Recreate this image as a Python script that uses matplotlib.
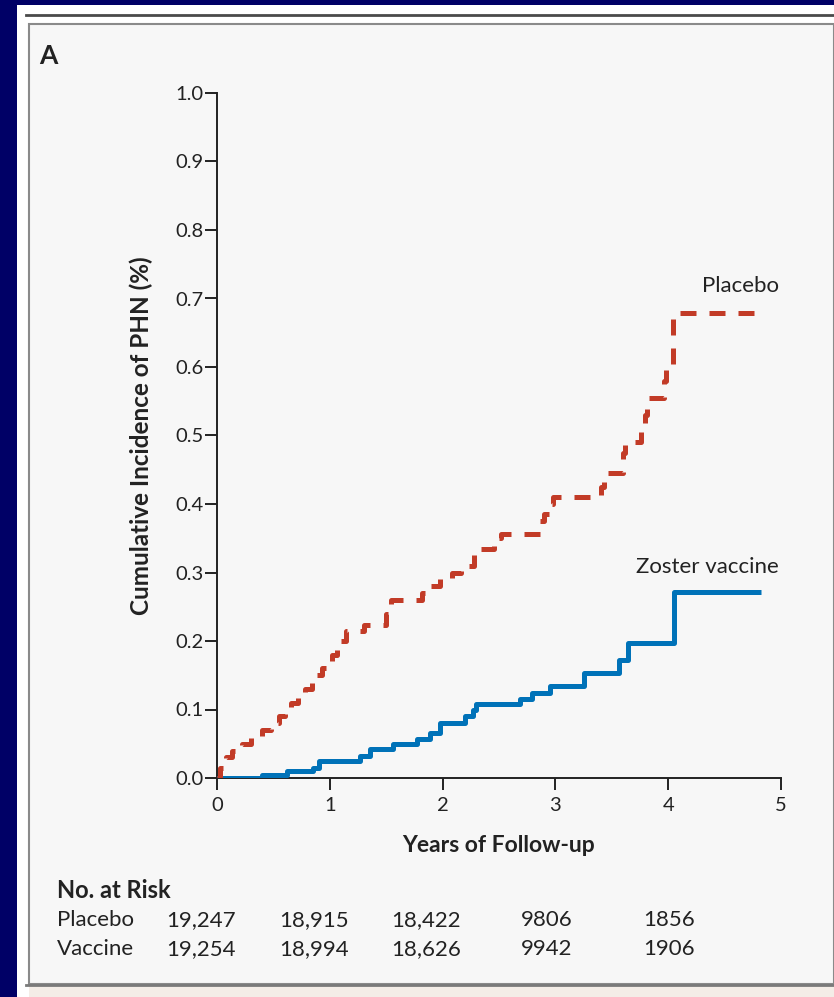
"""Zoster vaccine trial, panel A: cumulative incidence of PHN."""
import matplotlib
matplotlib.use('Agg')
import matplotlib.pyplot as plt
from matplotlib.patches import Rectangle
from matplotlib.lines import Line2D
from matplotlib.transforms import blended_transform_factory

plt.rcParams['font.family'] = ['Lato', 'DejaVu Sans']

# ---- data ----
placebo_t = [0, 0.03, 0.08, 0.13, 0.22, 0.30, 0.40, 0.48, 0.55, 0.60, 0.66, 0.72,
             0.78, 0.84, 0.89, 0.93, 0.97, 1.02, 1.06, 1.10, 1.14, 1.30, 1.50, 1.54,
             1.82, 1.88, 1.98, 2.08, 2.16, 2.28, 2.34, 2.46, 2.52, 2.86, 2.90, 2.95,
             2.98, 3.40, 3.43, 3.60, 3.62, 3.76, 3.79, 3.81, 3.96, 3.98, 4.04, 4.80]
placebo_y = [0, 0.015, 0.03, 0.04, 0.05, 0.06, 0.07, 0.08, 0.09, 0.10, 0.11, 0.12,
             0.13, 0.14, 0.15, 0.16, 0.17, 0.18, 0.19, 0.20, 0.215, 0.224, 0.24, 0.26,
             0.27, 0.28, 0.29, 0.30, 0.31, 0.325, 0.335, 0.35, 0.356, 0.375, 0.385, 0.40,
             0.41, 0.425, 0.445, 0.475, 0.49, 0.505, 0.53, 0.555, 0.58, 0.60, 0.679, 0.679]

vaccine_t = [0, 0.40, 0.62, 0.85, 0.90, 1.27, 1.36, 1.56, 1.77, 1.89, 1.98, 2.20,
             2.27, 2.30, 2.69, 2.79, 2.95, 3.25, 3.56, 3.64, 4.05, 4.82]
vaccine_y = [0, 0.005, 0.01, 0.015, 0.025, 0.032, 0.042, 0.05, 0.057, 0.066, 0.08, 0.09,
             0.10, 0.108, 0.115, 0.124, 0.135, 0.153, 0.172, 0.197, 0.272, 0.272]

risk_groups = ['Placebo', 'Vaccine']
risk_placebo = ['19,247', '18,915', '18,422', '9806', '1856']
risk_vaccine = ['19,254', '18,994', '18,626', '9942', '1906']

W, H = 834, 997
fig = plt.figure(figsize=(W / 100, H / 100), dpi=100, facecolor='#000066')


def fx(px):
    return px / W


def fy(py):
    return 1 - py / H


# slide frame: white sheet, rules, light panel, pink strip at the bottom
fig.patches.append(Rectangle((fx(17), 0), 1 - fx(17), fy(5), transform=fig.transFigure,
                             facecolor='white', edgecolor='none', zorder=-10))
fig.patches.append(Rectangle((fx(29), fy(984)), 1 - fx(29), fy(24) - fy(984),
                             transform=fig.transFigure, facecolor='#f7f7f7',
                             edgecolor='#8a8a8a', linewidth=1.5, zorder=-9))
fig.patches.append(Rectangle((fx(29), 0), 1 - fx(29), fy(986),
                             transform=fig.transFigure, facecolor='#f4ede7',
                             edgecolor='none', zorder=-9))
fig.lines.append(Line2D([fx(26), 1], [fy(15), fy(15)], transform=fig.transFigure,
                        color='#4a4a4a', linewidth=2, zorder=-8))
fig.lines.append(Line2D([fx(26), 1], [fy(984.5), fy(984.5)], transform=fig.transFigure,
                        color='#7a7a7a', linewidth=2, zorder=-8))

ax = fig.add_axes([fx(217), fy(778), fx(781) - fx(217), fy(93) - fy(778)])
ax.patch.set_alpha(0)

ax.step(vaccine_t, vaccine_y, where='post', color='#0072b8', linewidth=3.6,
        solid_capstyle='butt', zorder=3)
ax.step(placebo_t, placebo_y, where='post', color='#c23b27', linewidth=3.6,
        dashes=(3.2, 2.6), solid_capstyle='butt', zorder=4)

ax.set_xlim(0, 5)
ax.set_ylim(0, 1.0)
ax.set_xticks(range(6))
ax.set_yticks([i / 10 for i in range(11)])
ax.set_yticklabels([f'{i / 10:.1f}' for i in range(11)])
for s in ['top', 'right']:
    ax.spines[s].set_visible(False)
for s in ['left', 'bottom']:
    ax.spines[s].set_linewidth(1.4)
    ax.spines[s].set_color('#222222')
ax.tick_params(direction='out', length=8.5, width=1.4, color='#222222',
               labelsize=14.5, labelcolor='#222222')
ax.tick_params(axis='y', pad=1)
ax.tick_params(axis='x', pad=5)

ax.set_xlabel('Years of Follow-up', fontsize=16.5, fontweight='bold',
              color='#222222', labelpad=15)
ax.set_ylabel('Cumulative Incidence of PHN (%)', fontsize=17.5, fontweight='bold',
              color='#222222', labelpad=16)

ax.text(4.98, 0.718, 'Placebo', ha='right', va='center', fontsize=16, color='#222222')
ax.text(4.98, 0.308, 'Zoster vaccine', ha='right', va='center', fontsize=16,
        color='#222222')

fig.text(fx(39), fy(56), 'A', fontsize=19, fontweight='bold', va='center',
         color='#222222')

# number at risk table
fig.text(fx(57), fy(891), 'No. at Risk', fontsize=17, fontweight='bold',
         va='center', color='#222222')
risk_x = [-0.45, 0.55, 1.54, 2.69, 3.78]
tr = blended_transform_factory(ax.transData, fig.transFigure)
for label, row, py in zip(risk_groups, [risk_placebo, risk_vaccine], [920, 949]):
    fig.text(fx(57), fy(py), label, fontsize=16, va='center', color='#222222')
    for x, val in zip(risk_x, row):
        ax.text(x, fy(py), val, transform=tr, fontsize=16, va='center',
                ha='left', color='#222222', clip_on=False)

plt.savefig('out.png', dpi=100, facecolor=fig.get_facecolor())
plt.close()
